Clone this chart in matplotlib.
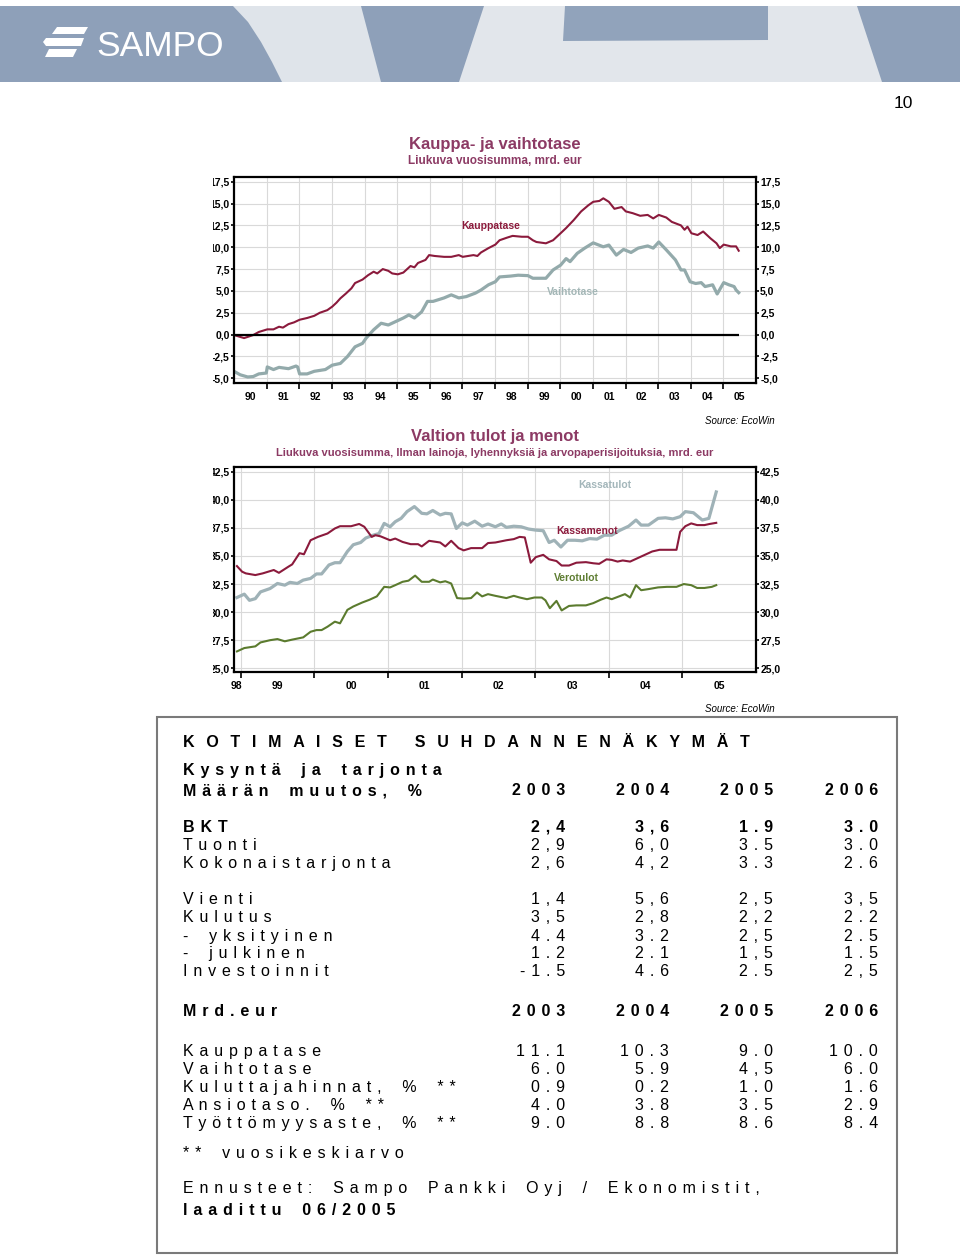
import numpy as np
import matplotlib
matplotlib.use('Agg')
import matplotlib.pyplot as plt
from matplotlib.patches import Rectangle, Polygon

plt.rcParams['font.family'] = ['Liberation Sans', 'DejaVu Sans']

W, H = 960, 1255

# --- chart 1: Kauppa- ja vaihtotase (mrd. eur, rolling 12m sum) ---
kauppa_x = [1990.00, 1990.31, 1990.59, 1990.76, 1991.02, 1991.21, 1991.38, 1991.50, 1991.67, 1991.84,
            1992.01, 1992.24, 1992.46, 1992.63, 1992.86, 1993.01, 1993.14, 1993.26, 1993.43, 1993.60,
            1993.71, 1993.94, 1994.11, 1994.28, 1994.39, 1994.56, 1994.73, 1994.85, 1995.02, 1995.19,
            1995.41, 1995.53, 1995.64, 1995.87, 1995.98, 1996.15, 1996.44, 1996.66, 1996.89, 1997.01,
            1997.34, 1997.46, 1997.57, 1997.80, 1998.01, 1998.14, 1998.37, 1998.54, 1998.82, 1999.01,
            1999.16, 1999.27, 1999.56, 1999.78, 2000.01, 2000.18, 2000.41, 2000.64, 2000.86, 2001.01,
            2001.20, 2001.32, 2001.49, 2001.66, 2001.88, 2002.01, 2002.22, 2002.45, 2002.68, 2002.85,
            2003.02, 2003.25, 2003.42, 2003.70, 2003.81, 2003.90, 2004.02, 2004.21, 2004.38, 2004.61,
            2004.79, 2004.89, 2005.01, 2005.23, 2005.39, 2005.47]
kauppa_y = [-0.05, -0.40, -0.05, 0.30, 0.60, 0.60, 0.90, 0.80, 1.20, 1.40,
            1.70, 1.90, 2.15, 2.50, 2.80, 3.20, 3.65, 4.15, 4.70, 5.30,
            5.90, 6.30, 6.80, 7.20, 7.00, 7.50, 7.30, 7.00, 6.90, 7.10,
            7.85, 7.70, 8.20, 8.55, 9.10, 9.00, 8.90, 8.90, 9.10, 8.90,
            9.10, 9.00, 9.40, 9.90, 10.30, 10.80, 11.10, 11.30, 11.20, 11.20,
            10.80, 10.60, 10.45, 10.80, 11.60, 12.20, 13.10, 14.10, 14.80, 15.20,
            15.30, 15.60, 15.20, 14.40, 14.60, 14.10, 13.90, 13.60, 13.70, 13.30,
            13.70, 13.40, 12.90, 12.50, 12.00, 12.35, 11.60, 11.40, 11.80, 11.00,
            10.45, 9.90, 10.30, 10.10, 10.10, 9.60]

vaihto_x = [1990.00, 1990.19, 1990.42, 1990.59, 1990.76, 1990.99, 1991.02, 1991.21, 1991.38, 1991.67,
            1991.90, 1991.95, 1992.01, 1992.24, 1992.46, 1992.80, 1993.01, 1993.26, 1993.48, 1993.71,
            1993.94, 1994.05, 1994.28, 1994.51, 1994.73, 1994.96, 1995.19, 1995.36, 1995.53, 1995.75,
            1995.93, 1996.10, 1996.44, 1996.66, 1996.89, 1997.12, 1997.40, 1997.57, 1997.80, 1998.01,
            1998.14, 1998.48, 1998.71, 1999.01, 1999.16, 1999.56, 1999.78, 2000.01, 2000.18, 2000.30,
            2000.52, 2000.75, 2001.01, 2001.32, 2001.49, 2001.72, 2001.94, 2002.17, 2002.39, 2002.68,
            2002.85, 2003.02, 2003.25, 2003.53, 2003.70, 2003.81, 2003.98, 2004.15, 2004.32, 2004.44,
            2004.67, 2004.81, 2005.01, 2005.17, 2005.33, 2005.39, 2005.47]
vaihto_y = [-4.20, -4.60, -4.85, -4.80, -4.50, -4.40, -3.70, -4.00, -3.75, -3.90,
            -3.60, -3.70, -4.50, -4.50, -4.20, -4.00, -3.50, -3.30, -2.50, -1.40,
            -1.00, -0.40, 0.55, 1.30, 1.10, 1.50, 1.90, 2.25, 1.90, 2.60,
            3.80, 3.80, 4.20, 4.55, 4.20, 4.35, 4.75, 5.10, 5.70, 6.05,
            6.60, 6.70, 6.80, 6.75, 6.45, 6.45, 7.40, 7.95, 8.70, 8.35,
            9.30, 9.90, 10.50, 10.05, 10.25, 9.10, 9.75, 9.40, 9.90, 10.15,
            9.90, 10.60, 9.70, 8.55, 7.40, 7.40, 6.05, 5.85, 5.95, 5.50,
            5.70, 4.65, 5.95, 5.70, 5.50, 5.10, 4.80]

# --- chart 2: Valtion tulot ja menot (mrd. eur) ---
menot_x = [1998.95, 1999.02, 1999.07, 1999.20, 1999.30, 1999.45, 1999.52, 1999.65, 1999.70, 1999.80,
           1999.86, 1999.95, 2000.05, 2000.18, 2000.28, 2000.35, 2000.50, 2000.61, 2000.68, 2000.78,
           2000.83, 2000.90, 2001.03, 2001.10, 2001.20, 2001.31, 2001.41, 2001.46, 2001.56, 2001.66,
           2001.71, 2001.78, 2001.86, 2001.96, 2002.03, 2002.13, 2002.28, 2002.36, 2002.46, 2002.61,
           2002.71, 2002.79, 2002.86, 2002.94, 2003.01, 2003.11, 2003.19, 2003.29, 2003.36, 2003.46,
           2003.56, 2003.69, 2003.79, 2003.87, 2003.97, 2004.04, 2004.12, 2004.19, 2004.29, 2004.39,
           2004.49, 2004.59, 2004.69, 2004.82, 2004.92, 2004.97, 2005.04, 2005.12, 2005.20, 2005.30,
           2005.37, 2005.46]
menot_y = [34.10, 33.60, 33.45, 33.30, 33.45, 33.75, 33.50, 34.05, 34.25, 35.25,
           35.15, 36.40, 36.70, 37.00, 37.45, 37.65, 37.65, 37.85, 37.60, 36.70,
           36.85, 36.75, 36.40, 36.55, 36.25, 36.05, 36.05, 35.85, 36.35, 36.25,
           36.20, 35.85, 36.35, 35.70, 35.50, 35.70, 35.70, 36.15, 36.20, 36.40,
           36.50, 36.70, 36.65, 34.40, 34.90, 35.10, 34.70, 34.55, 34.15, 34.15,
           34.40, 34.45, 34.35, 34.30, 34.70, 34.65, 34.50, 34.60, 34.50, 34.80,
           35.10, 35.40, 35.55, 35.55, 35.55, 37.15, 37.65, 37.90, 37.75, 37.75,
           37.85, 37.95]

tulot_x = [1998.95, 1999.05, 1999.12, 1999.20, 1999.27, 1999.40, 1999.50, 1999.60, 1999.67, 1999.77,
           1999.85, 1999.95, 2000.03, 2000.10, 2000.20, 2000.28, 2000.35, 2000.45, 2000.53, 2000.63,
           2000.70, 2000.80, 2000.88, 2000.95, 2001.03, 2001.10, 2001.18, 2001.26, 2001.36, 2001.46,
           2001.53, 2001.61, 2001.71, 2001.78, 2001.86, 2001.93, 2002.01, 2002.08, 2002.18, 2002.28,
           2002.36, 2002.46, 2002.54, 2002.61, 2002.71, 2002.81, 2002.91, 2003.01, 2003.11, 2003.19,
           2003.26, 2003.35, 2003.44, 2003.54, 2003.64, 2003.74, 2003.84, 2003.94, 2004.04, 2004.14,
           2004.27, 2004.37, 2004.44, 2004.54, 2004.67, 2004.77, 2004.87, 2004.97, 2005.04, 2005.15,
           2005.27, 2005.36, 2005.46]
tulot_y = [31.30, 31.60, 31.05, 31.20, 31.80, 32.10, 32.55, 32.40, 32.65, 32.55,
           32.85, 33.00, 33.40, 33.40, 34.20, 34.40, 34.40, 35.40, 36.00, 36.20,
           36.60, 36.85, 37.00, 37.90, 37.60, 38.05, 38.35, 38.95, 39.40, 38.80,
           38.75, 39.05, 38.65, 38.80, 38.75, 37.45, 37.95, 37.75, 38.10, 37.65,
           37.85, 37.60, 37.85, 37.55, 37.65, 37.60, 37.40, 37.30, 37.25, 36.20,
           36.40, 35.80, 36.40, 36.40, 36.35, 36.55, 36.50, 36.85, 36.85, 37.25,
           37.65, 38.20, 37.75, 37.75, 38.35, 38.40, 38.30, 38.50, 38.95, 38.85,
           38.20, 38.35, 40.70]

vero_x = [1998.95, 1999.05, 1999.20, 1999.27, 1999.40, 1999.50, 1999.60, 1999.70, 1999.85, 1999.95,
          2000.03, 2000.10, 2000.18, 2000.28, 2000.35, 2000.45, 2000.53, 2000.65, 2000.75, 2000.85,
          2000.95, 2001.03, 2001.10, 2001.20, 2001.28, 2001.37, 2001.46, 2001.56, 2001.61, 2001.71,
          2001.78, 2001.86, 2001.94, 2002.03, 2002.13, 2002.21, 2002.28, 2002.36, 2002.46, 2002.61,
          2002.71, 2002.79, 2002.89, 2002.99, 2003.09, 2003.14, 2003.20, 2003.29, 2003.36, 2003.46,
          2003.56, 2003.69, 2003.79, 2003.89, 2003.97, 2004.04, 2004.14, 2004.22, 2004.29, 2004.37,
          2004.44, 2004.54, 2004.67, 2004.79, 2004.92, 2005.02, 2005.12, 2005.20, 2005.30, 2005.40,
          2005.46]
vero_y = [26.50, 26.80, 26.95, 27.30, 27.50, 27.60, 27.40, 27.55, 27.75, 28.25,
          28.40, 28.40, 28.70, 29.15, 29.00, 30.20, 30.50, 30.85, 31.10, 31.40,
          32.25, 32.20, 32.40, 32.70, 32.80, 33.25, 32.70, 32.70, 32.90, 32.65,
          32.75, 32.55, 31.25, 31.20, 31.25, 31.75, 31.40, 31.60, 31.45, 31.25,
          31.45, 31.30, 31.15, 31.30, 31.30, 31.05, 30.35, 31.00, 30.15, 30.55,
          30.60, 30.60, 30.80, 31.10, 31.30, 31.15, 31.40, 31.60, 31.30, 32.40,
          31.95, 32.05, 32.20, 32.25, 32.25, 32.50, 32.40, 32.15, 32.15, 32.25,
          32.40]

ytl1 = ['-5,0', '-2,5', '0,0', '2,5', '5,0', '7,5', '10,0', '12,5', '15,0', '17,5']
ytl2 = ['25,0', '27,5', '30,0', '32,5', '35,0', '37,5', '40,0', '42,5']
xtl1 = ['90', '91', '92', '93', '94', '95', '96', '97', '98', '99', '00', '01', '02', '03', '04', '05']
xtl2 = ['98', '99', '00', '01', '02', '03', '04', '05']

# --- table ---
tbl_years = ['2003', '2004', '2005', '2006']
tbl1_labels = ['BKT', 'Tuonti', 'Kokonaistarjonta', 'Vienti', 'Kulutus',
               '- yksityinen', '- julkinen', 'Investoinnit']
tbl1_vals = [['2,4', '3,6', '1.9', '3.0'],
             ['2,9', '6,0', '3.5', '3.0'],
             ['2,6', '4,2', '3.3', '2.6'],
             ['1,4', '5,6', '2,5', '3,5'],
             ['3,5', '2,8', '2,2', '2.2'],
             ['4.4', '3.2', '2,5', '2.5'],
             ['1.2', '2.1', '1,5', '1.5'],
             ['-1.5', '4.6', '2.5', '2,5']]
tbl2_labels = ['Kauppatase', 'Vaihtotase', 'Kuluttajahinnat, % **', 'Ansiotaso. % **',
               'Työttömyysaste, % **']
tbl2_vals = [['11.1', '10.3', '9.0', '10.0'],
             ['6.0', '5.9', '4,5', '6.0'],
             ['0.9', '0.2', '1.0', '1.6'],
             ['4.0', '3.8', '3.5', '2.9'],
             ['9.0', '8.8', '8.6', '8.4']]

TITLE_C = '#8c3a64'
MAROON = '#8b1a3c'

GAP = ' \u200a'          # letter spacing of the original sheet
GAP_T = '  \u200a\u200a'


def track(s, g=GAP, ws='  '):
    return (g + ws + g).join(g.join(w) for w in s.split(' '))


fig = plt.figure(figsize=(W / 100, H / 100), dpi=100)
page = fig.add_axes([0, 0, 1, 1], zorder=0)
page.set_xlim(0, W)
page.set_ylim(H, 0)
page.axis('off')

# header banner
page.add_patch(Rectangle((0, 6), W, 76, color='#8ea0b9', lw=0))
page.add_patch(Polygon([(233, 6), (248, 22), (261, 42), (272, 62), (282, 82), (381, 82), (361, 6)],
                       closed=True, color='#dfe4ea', lw=0))
page.add_patch(Polygon([(484, 6), (459, 82), (882, 82), (857, 6)], closed=True, color='#e2e6eb', lw=0))
page.add_patch(Polygon([(565, 6), (768, 6), (768, 40), (563, 41)], closed=True, color='#91a3bb', lw=0))
# logo
page.add_patch(Polygon([(57, 27), (88, 27), (84, 34), (52, 34)], closed=True, color='white', lw=0))
page.add_patch(Polygon([(46, 38), (84, 38), (81, 46), (46, 46), (43, 42)], closed=True, color='white', lw=0))
page.add_patch(Polygon([(49, 49), (77, 49), (73, 57), (45, 57)], closed=True, color='white', lw=0))
page.text(96, 46, 'SAMPO', color='white', fontsize=25.5, ha='left', va='center')
page.text(903, 104, '10', fontsize=12.5, ha='center', va='center')

# chart titles
page.text(495, 145, 'Kauppa- ja vaihtotase', color=TITLE_C, fontsize=12, fontweight='bold',
          ha='center', va='center')
page.text(495, 161, 'Liukuva vuosisumma, mrd. eur', color=TITLE_C, fontsize=8.5, fontweight='bold',
          ha='center', va='center')
page.text(495, 436, 'Valtion tulot ja menot', color=TITLE_C, fontsize=12, fontweight='bold',
          ha='center', va='center')
page.text(495, 453, 'Liukuva vuosisumma, Ilman lainoja, lyhennyksiä ja arvopaperisijoituksia, mrd. eur',
          color=TITLE_C, fontsize=8, fontweight='bold', ha='center', va='center')
page.text(775, 421, 'Source: EcoWin', fontsize=7, style='italic', ha='right', va='center')
page.text(775, 709, 'Source: EcoWin', fontsize=7, style='italic', ha='right', va='center')


def style_axes(ax, yt, ytl, majors, minors, mlabels):
    ax.set_yticks(yt)
    ax.set_yticklabels(ytl)
    ax.set_xticks(majors)
    ax.set_xticklabels([])
    ax.set_xticks(minors, minor=True)
    ax.set_xticklabels(mlabels, minor=True)
    ax.tick_params(axis='x', which='major', length=4, width=1.2, direction='out')
    ax.tick_params(axis='x', which='minor', length=0, pad=6.5, labelsize=7.5)
    ax.tick_params(axis='y', left=True, right=True, labelleft=True, labelright=True,
                   length=2, width=1.2, pad=1, labelsize=7.5)
    for lab in ax.get_xticklabels(minor=True):
        lab.set_fontweight('bold')
    for t in ax.yaxis.get_major_ticks():
        t.label1.set_fontweight('bold')
        t.label2.set_fontweight('bold')
    ax.grid(True, which='major', color='#d9d9d9', lw=0.8)
    ax.set_axisbelow(True)
    for sp in ax.spines.values():
        sp.set_linewidth(1.6)
        sp.set_color('black')


ax1 = fig.add_axes([234 / W, 1 - 383 / H, 522 / W, 206 / H], zorder=2)
ax1.plot(vaihto_x, vaihto_y, color='#93aaab', lw=2.3)
ax1.plot(kauppa_x, kauppa_y, color=MAROON, lw=1.5)
ax1.hlines(0, kauppa_x[0], kauppa_x[-1], color='black', lw=1.6)
ax1.set_xlim(1990, 2006)
ax1.set_ylim(-5.54, 18.04)
style_axes(ax1, np.arange(-5, 17.6, 2.5), ytl1, np.arange(1991, 2006),
           np.arange(1990, 2006) + 0.5, xtl1)
ax1.text(1997.87, 12.43, 'Kauppatase', color=MAROON, fontsize=7.5, fontweight='bold',
         ha='center', va='center')
ax1.text(2000.39, 4.88, 'Vaihtotase', color='#a3b6b6', fontsize=7.5, fontweight='bold',
         ha='center', va='center')

ax2 = fig.add_axes([234 / W, 1 - 672.3 / H, 522 / W, 205.6 / H], zorder=2)
ax2.plot(tulot_x, tulot_y, color='#9fb2b7', lw=2.3)
ax2.plot(menot_x, menot_y, color=MAROON, lw=1.5)
ax2.plot(vero_x, vero_y, color='#5b7b2e', lw=1.5)
ax2.set_xlim(1998.91, 2006.0)
ax2.set_ylim(24.64, 42.95)
style_axes(ax2, np.arange(25, 42.6, 2.5), ytl2, np.arange(1999, 2006),
           [1998.94] + list(np.arange(1999, 2006) + 0.5), xtl2)
ax2.text(2003.94, 41.32, 'Kassatulot', color='#a3b6ba', fontsize=7.5, fontweight='bold',
         ha='center', va='center')
ax2.text(2003.70, 37.22, 'Kassamenot', color=MAROON, fontsize=7.5, fontweight='bold',
         ha='center', va='center')
ax2.text(2003.56, 33.03, 'Verotulot', color='#5e7d32', fontsize=7.5, fontweight='bold',
         ha='center', va='center')

# left labels are cut off in the original page
mask = fig.add_axes([0, 0, 1, 1], zorder=3)
mask.set_xlim(0, W)
mask.set_ylim(H, 0)
mask.axis('off')
mask.patch.set_alpha(0)
mask.add_patch(Rectangle((0, 165), 213, 525, color='white', lw=0))

# table
page.add_patch(Rectangle((157, 717), 740, 536, fill=False, edgecolor='#7a7a7a', lw=1.5))
LX = 183
col_r = [565, 669, 773, 878]
FS = 11.5
BASE = 6


def row(y, label, vals=None, bold=False, fs=FS):
    w = 'bold' if bold else 'normal'
    page.text(LX, y + BASE, track(label), fontsize=fs, fontweight=w, ha='left', va='baseline')
    if vals is not None:
        for xr, v in zip(col_r, vals):
            page.text(xr, y + BASE, track(v), fontsize=fs, fontweight=w, ha='right', va='baseline')


page.text(LX, 741 + BASE, track('KOTIMAISET SUHDANNENÄKYMÄT', GAP_T, ' '), fontsize=FS,
          fontweight='bold', ha='left', va='baseline')
row(769, 'Kysyntä ja tarjonta', bold=True)
row(789, 'Määrän muutos, %', tbl_years, bold=True)
ys1 = [826, 844, 862, 898, 916, 935, 952, 970]
for i, (lab, vals) in enumerate(zip(tbl1_labels, tbl1_vals)):
    row(ys1[i], lab, vals, bold=(i == 0))
row(1010, 'Mrd.eur', tbl_years, bold=True)
ys2 = [1050, 1068, 1086, 1104, 1122]
for i, (lab, vals) in enumerate(zip(tbl2_labels, tbl2_vals)):
    row(ys2[i], lab, vals)
row(1152, '** vuosikeskiarvo')
row(1187, 'Ennusteet: Sampo Pankki Oyj / Ekonomistit,')
row(1209, 'laadittu 06/2005', bold=True)

fig.savefig('out.png', dpi=100)
